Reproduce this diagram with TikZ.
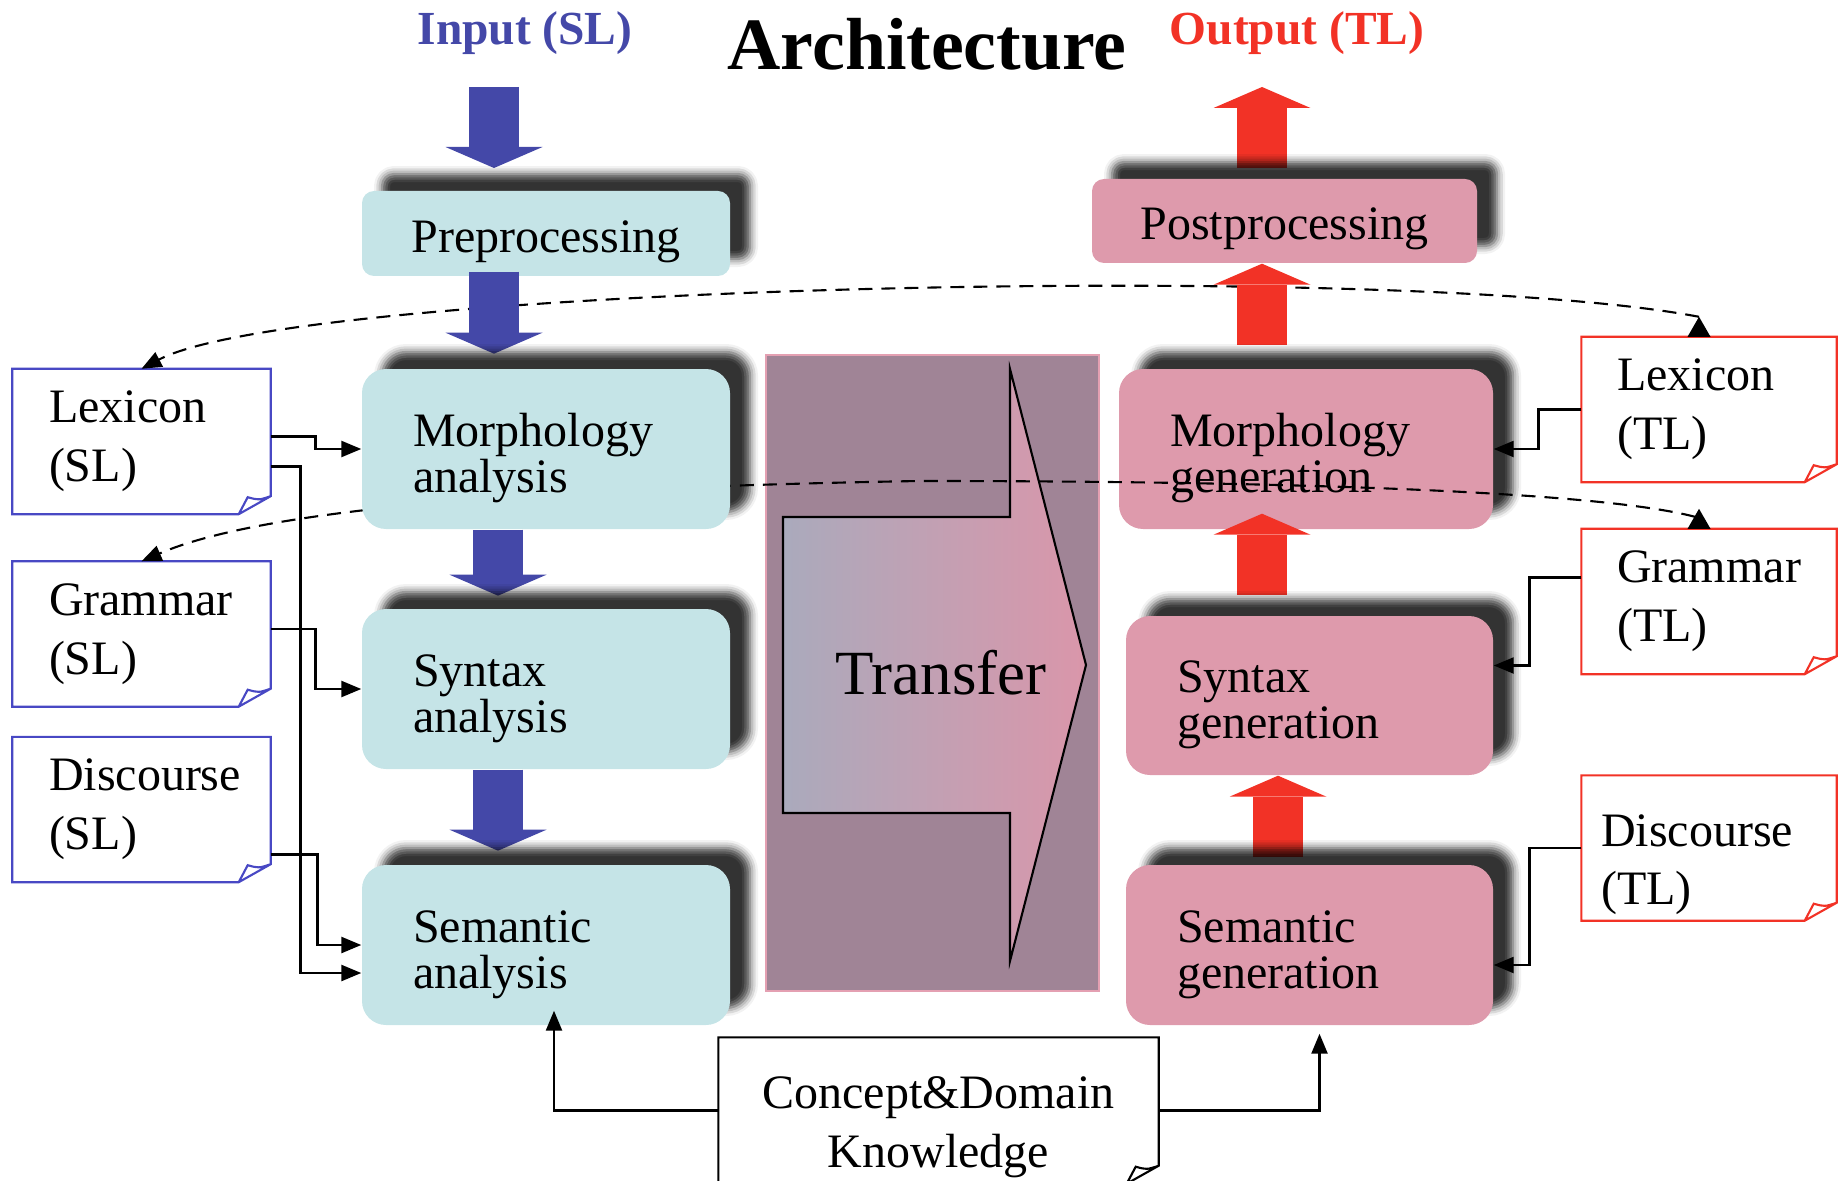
\documentclass[tikz,border=0pt]{standalone}
\usepackage{fontspec}
\setmainfont{Liberation Serif}
\usetikzlibrary{arrows.meta,shadows.blur}
\definecolor{slcyan}{RGB}{197,228,231}
\definecolor{tlpink}{RGB}{222,154,172}
\definecolor{slblue}{RGB}{68,72,168}
\definecolor{tlred}{RGB}{242,50,38}
\definecolor{docblue}{RGB}{72,72,196}
\definecolor{xfermauve}{RGB}{160,132,150}
\definecolor{xferedge}{RGB}{228,160,178}
\definecolor{xferleft}{RGB}{170,170,188}
\definecolor{xferright}{RGB}{218,150,170}

\begin{document}
\begin{tikzpicture}[x=0.1mm,y=-0.1mm,
	procfont/.style={font=\fontsize{13.66pt}{13.1pt}\selectfont},
	docfont/.style={font=\fontsize{13.66pt}{16.7pt}\selectfont},
	proc/.style={procfont,rounded corners=2.4mm,inner xsep=5.1mm,inner ysep=0pt,align=left,minimum height=16mm,
		text height=4.2mm,text depth=4.8mm,
		blur shadow={shadow xshift=2mm,shadow yshift=1.7mm,shadow blur radius=0.8mm,shadow opacity=80}},
	slproc/.style={proc,fill=slcyan},
	tlproc/.style={proc,fill=tlpink},
	endproc/.style={align=center,inner xsep=0pt,rounded corners=1.2mm,text height=4.8mm,text depth=1mm},
	doc/.style={docfont,fill=white,inner xsep=3.6mm,inner ysep=0pt,align=left,minimum height=14.4mm},
	conn/.style={line width=0.7pt,-{Triangle[length=2mm,width=1.6mm]}},
	dashcurve/.style={line width=0.6pt,dash pattern=on 1.4mm off 0.9mm,-{Triangle[length=2mm,width=1.6mm]}},
	bluearrow/.style={slblue,line width=5mm,-{Triangle[length=2.1mm,width=9.7mm,line width=0pt]}},
	redarrow/.style={tlred,line width=5mm,-{Triangle[length=2.1mm,width=9.7mm,line width=0pt]}}]
	\useasboundingbox (0,0) rectangle (1838,1180);

	% transfer block
	\fill[xfermauve,draw=xferedge,line width=0.6pt] (766,355) rectangle (1099,991);
	\shadedraw[left color=xferleft,right color=xferright,draw=black,line width=0.6pt]
		(783,517) -- (1010,517) -- (1010,369) -- (1086,665) -- (1010,961) -- (1010,813) -- (783,813) -- cycle;
	\node[font=\fontsize{17.9pt}{17.9pt}\selectfont,anchor=base] (xfer) at (941,694) {Transfer};

	% titles
	\node[font=\fontsize{21pt}{21pt}\selectfont\bfseries,anchor=base] (title) at (927,70) {Architecture};
	\node[font=\fontsize{13.5pt}{13.5pt}\selectfont\bfseries,text=slblue,anchor=base] (inlabel) at (525,45) {Input (SL)};
	\node[font=\fontsize{13.5pt}{13.5pt}\selectfont\bfseries,text=tlred,anchor=base] (outlabel) at (1297,45) {Output (TL)};

	% knowledge sources
	\node[doc,text width=18.5mm] (lexsl) at (141.5,441.5) {Lexicon\\(SL)};
	\node[doc,text width=18.5mm] (grsl) at (141.5,634) {Grammar\\(SL)};
	\node[doc,text width=18.5mm] (dissl) at (141.5,809.5) {Discourse\\(SL)};
	\node[doc,text width=18.4mm,inner xsep=3.5mm] (lextl) at (1709,409.5) {Lexicon\\(TL)};
	\node[doc,text width=18.4mm,inner xsep=3.5mm] (grtl) at (1709,601.5) {Grammar\\(TL)};
	\node[doc,text width=21.6mm,inner xsep=1.9mm,text height=3.6mm,text depth=4mm] (distl) at (1709,848) {Discourse\\(TL)};
	\node[doc,align=center,inner xsep=0pt,minimum width=43.9mm,minimum height=14.5mm,text height=12.3mm,text depth=1mm]
		(concept) at (938.5,1110.5) {Concept\&Domain\\Knowledge};

	% folded sheets
	\foreach \n/\c in {lexsl/docblue,grsl/docblue,dissl/docblue,lextl/tlred,grtl/tlred,distl/tlred,concept/black} {
			\draw[\c,line width=0.6pt] (\n.north west) -- (\n.north east) -- ([yshift=1.8mm]\n.south east)
				-- ([xshift=-3.2mm]\n.south east) -- (\n.south west) -- cycle
				([xshift=-3.2mm]\n.south east) -- ([shift={(-2.3mm,1.7mm)}]\n.south east)
				.. controls ([shift={(-1.2mm,1.4mm)}]\n.south east) .. ([yshift=1.8mm]\n.south east);
		}
	\foreach \n in {lextl,grtl}
		\fill ([shift={(-1mm,2mm)}]\n.north) -- ([xshift=-2.15mm]\n.north) -- ([xshift=0.15mm]\n.north) -- cycle;

	% lexicon link
	\draw[dashcurve] ([shift={(-1mm,2mm)}]lextl.north) .. controls (1400,260) and (300,285) .. (lexsl.north);

	% generation side
	\coordinate (outA) at (1262,87);
	\coordinate (outB) at (1278,87);
	\draw[redarrow] (outA) ++(0,81) -- (outA);
	\node[tlproc,endproc,minimum width=38.5mm,minimum height=8.4mm] (postproc) at (1284.5,221) {Postprocessing};
	\draw[redarrow] ([yshift=-8.1mm]outA |- postproc.south) -- (outA |- postproc.south);
	\node[tlproc,text width=27.2mm] (morphgen) at (1306,449) {Morphology\\generation};
	\draw[redarrow] ([yshift=-6.5mm]outA |- morphgen.south) -- ([yshift=1.6mm]outA |- morphgen.south);
	\node[tlproc,text width=26.5mm,minimum height=15.9mm] (syngen) at (1309.5,695.5) {Syntax\\generation};
	\draw[redarrow] ([yshift=-8.1mm]outB |- syngen.south) -- (outB |- syngen.south);
	\node[tlproc,text width=26.5mm] (semgen) at (1309.5,945) {Semantic\\generation};

	% grammar link
	\draw[dashcurve] ([shift={(-1.4mm,1.2mm)}]grtl.north) .. controls (1600,492) and (1300,481) .. (919,481)
		.. controls (520,488) and (260,510) .. (grsl.north);

	% analysis side
	\coordinate (inA) at (494,87);
	\coordinate (inB) at (498,87);
	\draw[bluearrow] (inA) -- ++(0,81);
	\node[slproc,endproc,minimum width=36.8mm,minimum height=8.5mm] (preproc) at (546,233.5) {Preprocessing};
	\draw[bluearrow] ([yshift=.5mm]inA |- preproc.south) -- ++(0,82);
	\node[slproc,text width=26.6mm] (morphan) at (546,449) {Morphology\\analysis};
	\draw[bluearrow] (inB |- morphan.south) -- ++(0,66);
	\node[slproc,text width=26.6mm] (synan) at (546,689) {Syntax\\analysis};
	\draw[bluearrow] (inB |- synan.south) -- ++(0,81);
	\node[slproc,text width=26.6mm] (seman) at (546,945) {Semantic\\analysis};

	% connectors
	\draw[conn] ([yshift=.5mm]lexsl.east) -- ++(45,0) |- (morphan.west);
	\draw[conn] ([yshift=-2.5mm]lexsl.east) -- ++(30,0) |- ([yshift=-2.8mm]seman.west);
	\draw[conn] ([yshift=.5mm]grsl.east) -- ++(45,0) |- (synan.west);
	\draw[conn] ([yshift=-4.5mm]dissl.east) -- ++(47,0) |- (seman.west);
	\draw[conn] (lextl.west) -- ++(-43,0) |- (morphgen.east);
	\draw[conn] ([yshift=2.4mm]grtl.west) -- ++(-52,0) |- ([yshift=3mm]syngen.east);
	\draw[conn] (distl.west) -- ++(-52,0) |- ([yshift=-2mm]semgen.east);
	\draw[conn] (concept.west) -| ([shift={(0.8mm,1.5mm)}]seman.south);
	\draw[conn] (concept.east) -| ([shift={(1mm,-0.8mm)}]semgen.south);
\end{tikzpicture}
\end{document}
